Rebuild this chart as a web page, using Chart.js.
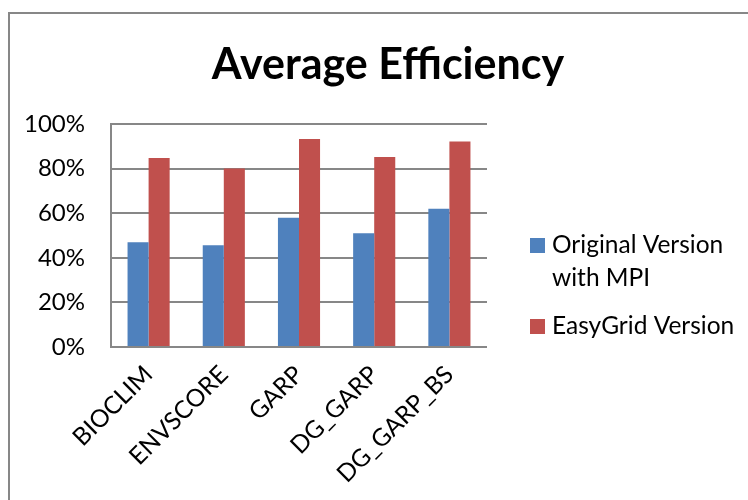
<!DOCTYPE html>
<html>
<head>
<meta charset="utf-8">
<script src="https://cdn.jsdelivr.net/npm/chart.js@4.4.1/dist/chart.umd.min.js"></script>
<style>
  html, body { margin: 0; padding: 0; background: #fff; }
  #wrap { position: relative; width: 748px; height: 500px; }
</style>
</head>
<body>
<div id="wrap"><canvas id="chart" width="748" height="500"></canvas></div>
<script>
// Algorithms compared
const categories = ['BIOCLIM', 'ENVSCORE', 'GARP', 'DG_GARP', 'DG_GARP_BS'];
// Average efficiency, percent
const originalMpi = [47, 45.6, 58, 51, 62];
const easyGrid = [84.7, 80, 93.3, 85.2, 92.2];
// Series names (first one wraps onto two lines in the legend)
const seriesNames = [['Original Version', 'with MPI'], ['EasyGrid Version']];
const seriesColors = ['#4F81BD', '#C0504D'];
const chartTitle = 'Average Efficiency';

const FONT = 'Lato, "Open Sans", sans-serif';
const GRID = '#878787';

// Outer frame, title and the side legend
const decorations = {
  id: 'decorations',
  beforeDraw(chart) {
    const ctx = chart.ctx;
    ctx.save();
    ctx.fillStyle = '#fff';
    ctx.fillRect(0, 0, chart.width, chart.height);
    ctx.strokeStyle = GRID;
    ctx.lineWidth = 2;
    ctx.beginPath();
    ctx.moveTo(9, chart.height + 5);
    ctx.lineTo(9, 13);
    ctx.lineTo(chart.width + 5, 13);
    ctx.stroke();
    ctx.restore();
  },
  afterDraw(chart) {
    const ctx = chart.ctx;
    ctx.save();
    ctx.fillStyle = '#000';
    ctx.textBaseline = 'alphabetic';
    ctx.textAlign = 'center';
    ctx.font = 'bold 43px ' + FONT;
    ctx.fillText(chartTitle, 388, 79);

    ctx.textAlign = 'left';
    ctx.font = '24.5px ' + FONT;
    const boxX = 530, textX = 552, lineH = 33;
    let baseline = 253;
    seriesNames.forEach((lines, i) => {
      ctx.fillStyle = seriesColors[i];
      ctx.fillRect(boxX, baseline - 15, 15, 15);
      ctx.fillStyle = '#000';
      lines.forEach((t, j) => ctx.fillText(t, textX, baseline + j * lineH));
      baseline += lines.length * lineH + 15;
    });
    ctx.restore();
  }
};

new Chart(document.getElementById('chart'), {
  type: 'bar',
  data: {
    labels: categories,
    datasets: [
      { label: seriesNames[0].join(' '), data: originalMpi, backgroundColor: seriesColors[0] },
      { label: seriesNames[1].join(' '), data: easyGrid, backgroundColor: seriesColors[1] }
    ]
  },
  options: {
    responsive: false,
    animation: false,
    devicePixelRatio: 1,
    layout: { padding: { top: 124, right: 261, left: 0, bottom: 0 } },
    datasets: { bar: { categoryPercentage: 0.56, barPercentage: 1.0 } },
    plugins: {
      legend: { display: false },
      title: { display: false },
      tooltip: { enabled: false }
    },
    scales: {
      x: {
        grid: { display: false, drawTicks: false },
        border: { display: false },
        ticks: {
          color: '#000',
          font: { family: FONT, size: 24.5 },
          minRotation: 45,
          maxRotation: 45,
          padding: 13
        },
        afterFit(scale) { scale.height = 153; }
      },
      y: {
        min: 0,
        max: 100,
        grid: { color: GRID, lineWidth: 2, drawTicks: false },
        border: { display: true, color: GRID, width: 2 },
        ticks: {
          stepSize: 20,
          color: '#000',
          font: { family: FONT, size: 24 },
          padding: 26,
          callback: v => v + '%'
        },
        afterFit(scale) { scale.width = 111; }
      }
    }
  },
  plugins: [decorations]
});
</script>
</body>
</html>
